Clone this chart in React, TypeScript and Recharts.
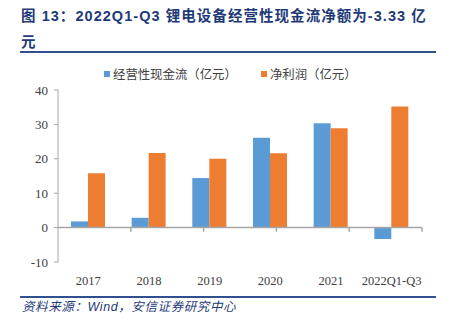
import React from 'react';
import { BarChart, Bar, XAxis, YAxis, ReferenceLine } from 'recharts';

const categories = ['2017', '2018', '2019', '2020', '2021', '2022Q1-Q3'];
const cashFlow = [1.8, 2.85, 14.4, 26.1, 30.3, -3.33];
const netProfit = [15.8, 21.7, 20.0, 21.6, 28.9, 35.2];
const yTicks = [-10, 0, 10, 20, 30, 40];

const data = categories.map((c, i) => ({ name: c, cash: cashFlow[i], profit: netProfit[i] }));

const BLUE = '#5B9BD5';
const ORANGE = '#ED7D31';
const AXIS = '#A6A6A6';
const TITLE = '#1F3A78';
const CJK = '"Noto Sans CJK SC", sans-serif';

export default function App() {
  return (
    <div style={{ position: 'absolute', left: 0, top: 0, width: 451, height: 322, background: '#fff', overflow: 'hidden' }}>
      <div
        style={{
          position: 'absolute', left: 21, top: 3, width: 430,
          fontFamily: '"Liberation Sans", ' + CJK, fontWeight: 'bold', fontSize: 14.5,
          letterSpacing: 1.05, color: TITLE, lineHeight: '26px', whiteSpace: 'nowrap',
        }}
      >
        <div>图 13：2022Q1-Q3 锂电设备经营性现金流净额为-3.33 亿</div>
        <div>元</div>
      </div>
      <div style={{ position: 'absolute', left: 20, top: 51, width: 416, height: 2, background: '#2F4F8F' }} />

      <div
        style={{
          position: 'absolute', left: 0, top: 66, width: 451, display: 'flex',
          fontFamily: CJK, fontSize: 12.4, color: '#404040', whiteSpace: 'nowrap', lineHeight: '16px',
        }}
      >
        <div style={{ display: 'flex', alignItems: 'center', marginLeft: 104 }}>
          <span style={{ width: 6, height: 6, background: BLUE, marginRight: 3 }} />
          <span>经营性现金流（亿元）</span>
        </div>
        <div style={{ display: 'flex', alignItems: 'center', marginLeft: 24 }}>
          <span style={{ width: 6, height: 6, background: ORANGE, marginRight: 3 }} />
          <span>净利润（亿元）</span>
        </div>
      </div>

      <div style={{ position: 'absolute', left: 0, top: 0 }}>
        <BarChart
          width={451}
          height={292}
          data={data}
          margin={{ top: 90, right: 29, bottom: 8, left: 0 }}
          barCategoryGap="21.4%"
          barGap={0}
        >
          <XAxis
            dataKey="name"
            axisLine={false}
            tickLine={false}
            tickMargin={8}
            height={22}
            interval={0}
            tick={{ fill: '#404040', fontSize: 12.5, fontFamily: '"Liberation Serif", serif' }}
          />
          <YAxis
            width={58}
            domain={[-10, 40]}
            ticks={yTicks}
            interval={0}
            stroke={AXIS}
            tickSize={4}
            tickMargin={6}
            tick={{ fill: '#404040', fontSize: 13, fontFamily: '"Liberation Serif", serif' }}
          />
          <XAxis xAxisId="n" type="number" domain={[0, 6]} hide />
          <ReferenceLine y={0} stroke={AXIS} strokeWidth={1.5} />
          {[1, 2, 3, 4, 5, 6].map((b) => (
            <ReferenceLine
              key={b}
              xAxisId="n"
              segment={[{ x: b, y: 0 }, { x: b, y: -1.2 }]}
              stroke={AXIS}
              strokeWidth={1.5}
            />
          ))}
          <Bar dataKey="cash" fill={BLUE} isAnimationActive={false} />
          <Bar dataKey="profit" fill={ORANGE} isAnimationActive={false} />
        </BarChart>
      </div>

      <div style={{ position: 'absolute', left: 20, top: 296, width: 416, height: 1.5, background: '#2F4F8F' }} />
      <div
        style={{
          position: 'absolute', left: 22, top: 298, fontStyle: 'italic', fontSize: 12.5,
          letterSpacing: 0.6, fontFamily: '"Liberation Sans", ' + CJK, color: TITLE,
          whiteSpace: 'nowrap', lineHeight: '18px',
        }}
      >
        资料来源：Wind，安信证券研究中心
      </div>
    </div>
  );
}
